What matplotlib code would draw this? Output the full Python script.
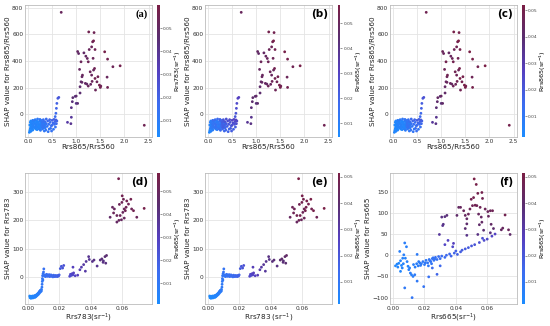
import matplotlib
matplotlib.use("Agg")
import matplotlib.pyplot as plt
from matplotlib.colors import LinearSegmentedColormap

# ---------- Rrs865/Rrs560 panels (a)(b)(c) ----------
ratio_x = [0.05, 0.07, 0.09, 0.11, 0.13, 0.15, 0.17, 0.19, 0.21, 0.23, 0.25, 0.27, 0.29, 0.31, 0.33, 0.35,
           0.06, 0.08, 0.10, 0.12, 0.14, 0.16, 0.18, 0.20, 0.22, 0.24, 0.26, 0.28, 0.30, 0.32, 0.34, 0.36,
           0.05, 0.07, 0.09, 0.11, 0.13, 0.15, 0.17, 0.19, 0.21, 0.23, 0.25, 0.27, 0.29, 0.31, 0.33, 0.35,
           0.04, 0.06, 0.08, 0.10, 0.12, 0.14, 0.16, 0.18, 0.20, 0.22, 0.24, 0.26, 0.28, 0.30,
           0.04, 0.03, 0.06, 0.08,
           0.27, 0.28, 0.30, 0.30, 0.32, 0.33, 0.35, 0.36, 0.38, 0.38, 0.40, 0.41, 0.43, 0.44, 0.45,
           0.46, 0.48, 0.50, 0.50, 0.52, 0.53, 0.54, 0.55, 0.56, 0.57, 0.58, 0.59, 0.60, 0.26, 0.34,
           0.42, 0.10, 0.15, 0.20, 0.25, 0.29, 0.31, 0.37, 0.47, 0.49,
           0.565, 0.58, 0.59, 0.60, 0.62, 0.64,
           0.82, 0.89, 0.90, 0.90, 0.92, 0.93, 0.98, 1.00, 1.00, 1.03,
           0.69, 2.41,
           1.03, 1.05, 1.07, 1.08, 1.10, 1.12, 1.13, 1.10, 1.26, 1.37, 1.34, 1.36, 1.32, 1.27, 1.39,
           1.23, 1.25, 1.20, 1.16, 1.29, 1.32, 1.39, 1.43, 1.36, 1.38, 1.33, 1.22, 1.19, 1.25, 1.48,
           1.51, 1.50, 1.40, 1.45, 1.59, 1.65, 1.76, 1.91, 1.64, 1.65, 1.08, 1.12, 1.30, 1.35]
ratio_shap = [-60, -75, -90, -55, -100, -70, -85, -60, -95, -75, -50, -88, -65, -105, -80, -58,
              -92, -70, -85, -62, -100, -110, -80, -95, -78, -108, -62, -72, -98, -52, -82, -68,
              -105, -62, -112, -78, -48, -92, -102, -115, -55, -95, -112, -70, -90, -65, -100, -85,
              -80, -50, -100, -118, -92, -58, -75, -50, -65, -108, -88, -96, -52, -78,
              -120, -135, -128, -118,
              -45, -90, -60, -110, -40, -80, -55, -100, -35, -70, -90, -50, -75, -110, -40,
              -60, -85, -45, -82, -65, -112, -38, -75, -55, -95, -42, -70, -50, -120, -125,
              -130, -45, -40, -35, -38, -75, -95, -118, -105, -125,
              -17, 8, 45, 82, 120, 127,
              -60, -70, -22, 50, 95, 125, 135, 137, 82, 82,
              765, -82,
              471, 456, 337, 207, 244, 282, 294, 394, 618, 613, 544, 551, 506, 486, 486,
              419, 394, 436, 461, 319, 294, 269, 244, 332, 344, 247, 227, 232, 212, 219,
              212, 202, 182, 282, 469, 414, 357, 364, 279, 202, 160, 240, 225, 420]
ratio_c783 = [0.005, 0.004, 0.006, 0.005, 0.007, 0.004, 0.006, 0.005, 0.007, 0.006, 0.008, 0.005, 0.006, 0.007, 0.005, 0.008,
              0.006, 0.007, 0.005, 0.008, 0.006, 0.004, 0.005, 0.006, 0.007, 0.005, 0.008, 0.006, 0.007, 0.009, 0.005, 0.008,
              0.004, 0.006, 0.005, 0.007, 0.006, 0.008, 0.007, 0.005, 0.006, 0.004, 0.005, 0.006, 0.007, 0.005, 0.006, 0.008,
              0.004, 0.005, 0.006, 0.005, 0.007, 0.006, 0.008, 0.005, 0.006, 0.007, 0.005, 0.006, 0.008, 0.007,
              0.004, 0.005, 0.006, 0.005,
              0.012, 0.010, 0.014, 0.011, 0.015, 0.013, 0.016, 0.012, 0.017, 0.014, 0.013, 0.018, 0.015, 0.012, 0.019,
              0.016, 0.014, 0.020, 0.017, 0.018, 0.013, 0.021, 0.016, 0.019, 0.015, 0.022, 0.018, 0.020, 0.011, 0.012,
              0.013, 0.009, 0.010, 0.011, 0.012, 0.013, 0.014, 0.012, 0.015, 0.014,
              0.017, 0.018, 0.020, 0.021, 0.023, 0.024,
              0.036, 0.040, 0.038, 0.042, 0.044, 0.046, 0.043, 0.047, 0.041, 0.045,
              0.052, 0.055,
              0.050, 0.049, 0.051, 0.047, 0.048, 0.050, 0.052, 0.053, 0.056, 0.055, 0.054, 0.057, 0.053, 0.052, 0.055,
              0.051, 0.054, 0.050, 0.049, 0.053, 0.052, 0.056, 0.054, 0.051, 0.055, 0.053, 0.048, 0.050, 0.052, 0.057,
              0.054, 0.056, 0.053, 0.055, 0.058, 0.056, 0.054, 0.057, 0.052, 0.055, 0.046, 0.049, 0.051, 0.053]
ratio_c665 = [0.010, 0.008, 0.012, 0.011, 0.014, 0.009, 0.013, 0.010, 0.015, 0.012, 0.016, 0.011, 0.013, 0.015, 0.010, 0.017,
              0.012, 0.014, 0.011, 0.016, 0.013, 0.009, 0.010, 0.012, 0.014, 0.011, 0.016, 0.013, 0.015, 0.018, 0.011, 0.017,
              0.009, 0.012, 0.010, 0.014, 0.013, 0.016, 0.015, 0.011, 0.013, 0.009, 0.010, 0.012, 0.014, 0.011, 0.013, 0.016,
              0.008, 0.010, 0.012, 0.011, 0.014, 0.013, 0.016, 0.010, 0.012, 0.015, 0.011, 0.013, 0.017, 0.014,
              0.007, 0.006, 0.008, 0.009,
              0.020, 0.018, 0.022, 0.019, 0.024, 0.021, 0.025, 0.020, 0.026, 0.022, 0.021, 0.027, 0.024, 0.019, 0.028,
              0.025, 0.022, 0.029, 0.026, 0.027, 0.021, 0.030, 0.025, 0.028, 0.023, 0.031, 0.027, 0.029, 0.018, 0.019,
              0.020, 0.016, 0.017, 0.018, 0.020, 0.021, 0.022, 0.019, 0.023, 0.022,
              0.024, 0.025, 0.027, 0.028, 0.030, 0.031,
              0.038, 0.041, 0.039, 0.043, 0.045, 0.046, 0.044, 0.047, 0.042, 0.045,
              0.050, 0.053,
              0.048, 0.047, 0.049, 0.046, 0.047, 0.049, 0.050, 0.051, 0.055, 0.054, 0.053, 0.056, 0.052, 0.051, 0.054,
              0.050, 0.052, 0.049, 0.048, 0.051, 0.050, 0.054, 0.053, 0.050, 0.054, 0.052, 0.047, 0.049, 0.051, 0.055,
              0.053, 0.055, 0.052, 0.054, 0.056, 0.055, 0.053, 0.056, 0.051, 0.054, 0.045, 0.048, 0.050, 0.052]
ratio_c865 = [0.004, 0.003, 0.005, 0.004, 0.006, 0.003, 0.005, 0.004, 0.006, 0.005, 0.007, 0.004, 0.005, 0.006, 0.004, 0.007,
              0.005, 0.006, 0.004, 0.007, 0.005, 0.003, 0.004, 0.005, 0.006, 0.004, 0.007, 0.005, 0.006, 0.008, 0.004, 0.007,
              0.003, 0.005, 0.004, 0.006, 0.005, 0.007, 0.006, 0.004, 0.005, 0.003, 0.004, 0.005, 0.006, 0.004, 0.005, 0.007,
              0.003, 0.004, 0.005, 0.004, 0.006, 0.005, 0.007, 0.004, 0.005, 0.006, 0.004, 0.005, 0.007, 0.006,
              0.003, 0.004, 0.005, 0.004,
              0.010, 0.009, 0.012, 0.010, 0.013, 0.011, 0.014, 0.010, 0.015, 0.012, 0.011, 0.016, 0.013, 0.010, 0.017,
              0.014, 0.012, 0.018, 0.015, 0.016, 0.011, 0.019, 0.014, 0.017, 0.013, 0.020, 0.016, 0.018, 0.009, 0.010,
              0.011, 0.008, 0.009, 0.010, 0.011, 0.012, 0.013, 0.011, 0.014, 0.013,
              0.015, 0.016, 0.018, 0.019, 0.021, 0.022,
              0.033, 0.036, 0.035, 0.039, 0.041, 0.043, 0.040, 0.044, 0.038, 0.042,
              0.048, 0.050,
              0.046, 0.045, 0.047, 0.043, 0.044, 0.046, 0.048, 0.049, 0.051, 0.050, 0.049, 0.052, 0.048, 0.047, 0.050,
              0.046, 0.049, 0.045, 0.044, 0.048, 0.047, 0.051, 0.049, 0.046, 0.050, 0.048, 0.043, 0.045, 0.047, 0.052,
              0.049, 0.051, 0.048, 0.050, 0.052, 0.051, 0.049, 0.052, 0.047, 0.050, 0.042, 0.045, 0.046, 0.048]

# ---------- Rrs783 panels (d)(e) ----------
r783_x = [0.0010, 0.0013, 0.0016, 0.0019, 0.0022, 0.0025, 0.0028, 0.0031, 0.0034, 0.0037, 0.0040, 0.0043, 0.0046,
          0.0049, 0.0052, 0.0055, 0.0058, 0.0061, 0.0064, 0.0067, 0.0070, 0.0073, 0.0076, 0.0079, 0.0082, 0.0085,
          0.0012, 0.0018, 0.0024, 0.0030, 0.0036, 0.0042, 0.0048, 0.0054, 0.0060, 0.0066, 0.0072, 0.0078, 0.0084,
          0.0088, 0.0089, 0.0090, 0.0091, 0.0092, 0.0095, 0.0098, 0.0100, 0.0094,
          0.0102, 0.0106, 0.0110, 0.0114, 0.0118, 0.0122, 0.0126, 0.0130, 0.0134, 0.0138, 0.0142, 0.0146, 0.0150,
          0.0154, 0.0158, 0.0162, 0.0166, 0.0170, 0.0174, 0.0178, 0.0182, 0.0186, 0.0190, 0.0194, 0.0198,
          0.0212, 0.0227, 0.0220, 0.0205,
          0.0265, 0.0270, 0.0275, 0.0280, 0.0285, 0.0290, 0.0286, 0.0300, 0.0316,
          0.0330, 0.0340, 0.0354, 0.0365, 0.0370, 0.0386, 0.0390, 0.0410, 0.0420, 0.0440, 0.0460, 0.0470, 0.0480,
          0.0490, 0.0500, 0.0495, 0.0478,
          0.0523, 0.0538, 0.0550, 0.0566, 0.0577, 0.0579, 0.0587, 0.0600, 0.0608, 0.0598, 0.0613, 0.0620, 0.0604,
          0.0629, 0.0640, 0.0655, 0.0660, 0.0672, 0.0693, 0.0740, 0.0595, 0.0613, 0.0566, 0.0545, 0.0625, 0.0582]
r783_shap = [-66, -68, -69, -67, -70, -68, -66, -69, -67, -68, -65, -67, -64,
             -66, -63, -61, -60, -58, -57, -55, -52, -50, -48, -46, -45, -43,
             -72, -74, -71, -73, -70, -71, -69, -66, -63, -60, -56, -52, -49,
             -35, -25, -15, -5, 5, 12, 18, 29, -10,
             5, 8, 2, 6, 10, 3, 7, 4, 9, 2, 6, 8, 3,
             5, 1, 7, 4, 2, 6, 3, 5, 2, 6, 4, 8,
             38, 41, 32, 30,
             3, 10, 6, 12, 8, 15, 35, 5, 7,
             26, 35, 44, 21, 55, 72, 62, 55, 60, 39, 60, 64, 57,
             72, 76, 49, 52,
             210, 245, 239, 216, 345, 199, 216, 285, 273, 262, 239, 233, 227,
             267, 256, 273, 239, 233, 210, 241, 201, 207, 193, 225, 245, 255]
r783_c665 = [0.003, 0.002, 0.004, 0.003, 0.002, 0.004, 0.003, 0.005, 0.004, 0.003, 0.005, 0.004, 0.006,
             0.005, 0.004, 0.006, 0.005, 0.007, 0.006, 0.007, 0.008, 0.007, 0.008, 0.009, 0.008, 0.009,
             0.002, 0.003, 0.003, 0.004, 0.004, 0.005, 0.005, 0.006, 0.006, 0.007, 0.008, 0.008, 0.009,
             0.010, 0.011, 0.010, 0.011, 0.012, 0.011, 0.012, 0.013, 0.010,
             0.012, 0.013, 0.012, 0.014, 0.013, 0.015, 0.014, 0.013, 0.015, 0.016, 0.014, 0.015, 0.016,
             0.017, 0.015, 0.016, 0.018, 0.017, 0.016, 0.018, 0.019, 0.017, 0.018, 0.020, 0.019,
             0.022, 0.024, 0.023, 0.021,
             0.026, 0.027, 0.025, 0.028, 0.027, 0.029, 0.030, 0.028, 0.030,
             0.032, 0.033, 0.035, 0.034, 0.036, 0.038, 0.037, 0.039, 0.040, 0.038, 0.041, 0.042, 0.040,
             0.043, 0.044, 0.041, 0.040,
             0.047, 0.049, 0.050, 0.051, 0.055, 0.050, 0.052, 0.054, 0.053, 0.052, 0.051, 0.053, 0.050,
             0.054, 0.053, 0.055, 0.052, 0.054, 0.051, 0.056, 0.049, 0.050, 0.048, 0.051, 0.053, 0.052]
r783_c865 = [0.002, 0.002, 0.003, 0.002, 0.002, 0.003, 0.003, 0.004, 0.003, 0.003, 0.004, 0.004, 0.005,
             0.004, 0.004, 0.005, 0.005, 0.006, 0.005, 0.006, 0.007, 0.006, 0.007, 0.008, 0.007, 0.008,
             0.002, 0.002, 0.003, 0.003, 0.003, 0.004, 0.004, 0.005, 0.005, 0.006, 0.007, 0.007, 0.008,
             0.009, 0.009, 0.009, 0.010, 0.010, 0.010, 0.011, 0.011, 0.009,
             0.010, 0.011, 0.010, 0.011, 0.011, 0.012, 0.012, 0.011, 0.012, 0.013, 0.012, 0.013, 0.013,
             0.014, 0.013, 0.014, 0.015, 0.014, 0.014, 0.015, 0.016, 0.015, 0.016, 0.017, 0.016,
             0.020, 0.022, 0.021, 0.019,
             0.024, 0.025, 0.023, 0.026, 0.025, 0.027, 0.028, 0.026, 0.028,
             0.030, 0.031, 0.033, 0.032, 0.034, 0.036, 0.035, 0.037, 0.038, 0.036, 0.039, 0.040, 0.038,
             0.041, 0.042, 0.039, 0.038,
             0.044, 0.046, 0.047, 0.048, 0.051, 0.047, 0.049, 0.050, 0.049, 0.048, 0.047, 0.049, 0.046,
             0.050, 0.049, 0.051, 0.048, 0.050, 0.047, 0.051, 0.045, 0.046, 0.044, 0.047, 0.049, 0.048]

# ---------- Rrs665 panel (f) ----------
r665_x = [0.0015, 0.0025, 0.0036, 0.0047, 0.0053, 0.0042, 0.0061, 0.0068, 0.0074, 0.0085, 0.0078, 0.0089,
          0.0095, 0.0100, 0.0110, 0.0117, 0.0127, 0.0138, 0.0074, 0.0121, 0.0153, 0.0195, 0.0227, 0.0153,
          0.0163, 0.0047, 0.0058, 0.0030, 0.0065, 0.0105,
          0.0130, 0.0150, 0.0160, 0.0170, 0.0180, 0.0190, 0.0200, 0.0210, 0.0220, 0.0230, 0.0240, 0.0250,
          0.0260, 0.0270, 0.0280, 0.0290, 0.0300, 0.0310, 0.0330, 0.0340, 0.0360, 0.0370, 0.0390, 0.0400,
          0.0410, 0.0430, 0.0440, 0.0460, 0.0480, 0.0500, 0.0520, 0.0550, 0.0580, 0.0600, 0.0630, 0.0650,
          0.0570, 0.0140, 0.0175, 0.0205, 0.0235, 0.0255, 0.0265, 0.0245, 0.0225,
          0.0250, 0.0280, 0.0300, 0.0380, 0.0350, 0.0330, 0.0385,
          0.0310, 0.0330, 0.0343, 0.0316, 0.0320, 0.0295, 0.0407, 0.0418, 0.0430, 0.0450, 0.0460, 0.0470,
          0.0470, 0.0460, 0.0480, 0.0490, 0.0498, 0.0513, 0.0506, 0.0523, 0.0534, 0.0517, 0.0530, 0.0540,
          0.0555, 0.0566, 0.0570, 0.0545, 0.0562, 0.0566, 0.0550, 0.0577, 0.0587, 0.0604, 0.0620, 0.0634,
          0.0608, 0.0625, 0.0640, 0.0714, 0.0736, 0.0690, 0.0699, 0.0746, 0.0470, 0.0540, 0.0620]
r665_shap = [-25, -21, -19, -13, -24, 9, -7, 1, 29, 20, -7, -15,
             -26, -34, -42, -46, -50, -46, -77, -100, -61, -74, -51, 2,
             -15, -38, -30, -28, -20, -30,
             -22, -20, -25, -18, -20, -15, -22, -12, -18, -10, -15, -8,
             -12, -5, -10, -3, -8, -2, -5, 0, 3, -2, 5, 10,
             2, 8, 12, 15, 18, 22, 25, 30, 35, 38, 45, 50,
             40, -28, -24, -18, -13, -6, -9, -20, -25,
             -30, -45, -25, 20, 35, 25, 28,
             90, 91, 94, 70, 73, 49, 94, 113, 113, 105, 94, 86,
             74, 63, 97, 109, 132, 136, 117, 118, 117, 180, 167, 146,
             113, 148, 134, 97, 90, 78, 72, 59, 109, 103, 105, 105,
             92, 73, 63, 95, 60, 60, 64, 49, 47, 49, 53]
r665_c865 = [0.003, 0.004, 0.003, 0.005, 0.004, 0.006, 0.005, 0.006, 0.007, 0.006, 0.005, 0.006,
             0.005, 0.006, 0.007, 0.006, 0.007, 0.008, 0.009, 0.010, 0.009, 0.011, 0.012, 0.008,
             0.007, 0.004, 0.005, 0.004, 0.005, 0.006,
             0.006, 0.007, 0.007, 0.008, 0.008, 0.009, 0.009, 0.009, 0.010, 0.010, 0.011, 0.011,
             0.011, 0.012, 0.012, 0.013, 0.013, 0.014, 0.014, 0.015, 0.015, 0.016, 0.016, 0.017,
             0.017, 0.018, 0.018, 0.019, 0.019, 0.020, 0.021, 0.022, 0.023, 0.024, 0.025, 0.026,
             0.022, 0.007, 0.008, 0.009, 0.010, 0.011, 0.011, 0.010, 0.009,
             0.014, 0.016, 0.015, 0.024, 0.026, 0.025, 0.027,
             0.036, 0.037, 0.038, 0.034, 0.035, 0.032, 0.041, 0.043, 0.044, 0.045, 0.044, 0.042,
             0.040, 0.039, 0.045, 0.046, 0.048, 0.049, 0.047, 0.048, 0.047, 0.051, 0.050, 0.049,
             0.047, 0.049, 0.048, 0.044, 0.043, 0.042, 0.041, 0.039, 0.046, 0.045, 0.046, 0.047,
             0.044, 0.042, 0.040, 0.048, 0.045, 0.043, 0.044, 0.041, 0.035, 0.036, 0.037]

sr = r"(sr$^{-1}$)"
panels = [
    dict(x=ratio_x, y=ratio_shap, c=ratio_c783, lo=0.003, hi=0.060, letter="(a)",
         xl="Rrs865/Rrs560", yl="SHAP value for Rrs865/Rrs560", cl="Rrs783" + sr),
    dict(x=ratio_x, y=ratio_shap, c=ratio_c665, lo=0.0044, hi=0.0574, letter="(b)",
         xl="Rrs865/Rrs560", yl="SHAP value for Rrs865/Rrs560", cl="Rrs665" + sr),
    dict(x=ratio_x, y=ratio_shap, c=ratio_c865, lo=0.0022, hi=0.052, letter="(c)",
         xl="Rrs865/Rrs560", yl="SHAP value for Rrs865/Rrs560", cl="Rrs865" + sr),
    dict(x=r783_x, y=r783_shap, c=r783_c665, lo=0.001, hi=0.058, letter="(d)",
         xl="Rrs783" + sr, yl="SHAP value for Rrs783", cl="Rrs665" + sr),
    dict(x=r783_x, y=r783_shap, c=r783_c865, lo=0.0015, hi=0.0515, letter="(e)",
         xl="Rrs783 " + sr, yl="SHAP value for Rrs783", cl="Rrs865" + sr),
    dict(x=r665_x, y=r665_shap, c=r665_c865, lo=0.0015, hi=0.0515, letter="(f)",
         xl="Rrs665" + sr, yl="SHAP value for Rrs665", cl="Rrs865" + sr),
]
limits = [((-0.06, 2.57), (-170, 820), [0, 0.5, 1.0, 1.5, 2.0, 2.5], [0, 200, 400, 600, 800], "%.1f")] * 3 + \
         [((-0.002, 0.079), (-94, 365), [0, 0.02, 0.04, 0.06], [0, 100, 200, 300], "%.2f")] * 2 + \
         [((-0.002, 0.079), (-115, 194), [0, 0.02, 0.04, 0.06], [-100, -50, 0, 50, 100, 150], "%.2f")]

cmap = LinearSegmentedColormap.from_list("shapish", ["#1c8cff", "#3c6cf0", "#5540c0", "#5a2e70", "#7a1e45"])

fig = plt.figure(figsize=(5.5, 3.26), dpi=100)
lefts = [25, 205, 390]
cbx = [157, 338, 522]
rows = [(5, 137), (173, 304)]
W, H = 550.0, 326.0

for i, p in enumerate(panels):
    r, col = divmod(i, 3)
    top, bot = rows[r]
    ax = fig.add_axes([lefts[col] / W, 1 - bot / H, 127 / W, (bot - top) / H])
    cax = fig.add_axes([cbx[col] / W, 1 - bot / H, 2.5 / W, (bot - top) / H])
    xlim, ylim, xt, yt, fmt = limits[i]
    ax.grid(True, color="#e4e4e4", linewidth=0.6, zorder=0)
    sc = ax.scatter(p["x"], p["y"], c=p["c"], cmap=cmap, vmin=p["lo"], vmax=p["hi"],
                    s=4, linewidths=0, zorder=3)
    ax.set_xlim(xlim)
    ax.set_ylim(ylim)
    ax.set_xticks(xt)
    ax.set_yticks(yt)
    ax.set_xticklabels([fmt % v for v in xt])
    ax.tick_params(labelsize=4.2, length=0, pad=1.2, colors="#333333")
    for s in ax.spines.values():
        s.set_color("#bbbbbb")
        s.set_linewidth(0.6)
    ax.set_xlabel(p["xl"], fontsize=5.2, labelpad=0.5, color="#222222")
    ax.set_ylabel(p["yl"], fontsize=5.2, labelpad=0.8, color="#222222")
    fam = "Liberation Serif" if i == 0 else "DejaVu Sans"
    ax.text(0.97, 0.93, p["letter"], transform=ax.transAxes, ha="right", va="center",
            fontsize=7.5, fontweight="bold", family=fam, zorder=5)
    cb = fig.colorbar(sc, cax=cax)
    cb.outline.set_visible(False)
    cb.set_ticks([0.01, 0.02, 0.03, 0.04, 0.05])
    cb.ax.tick_params(labelsize=3.2, length=1.5, width=0.4, pad=0.8, colors="#444444")
    cb.set_label(p["cl"], fontsize=4.6, labelpad=0.5)

fig.savefig("out.png", dpi=100)
